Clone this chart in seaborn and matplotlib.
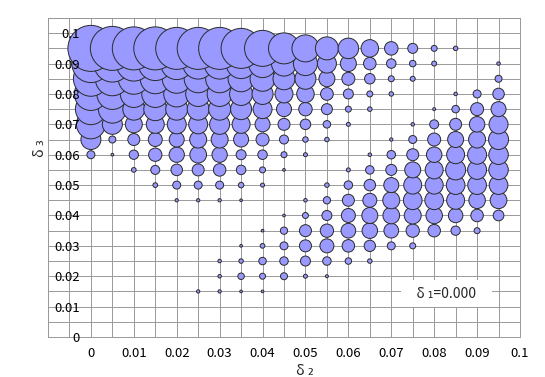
import numpy as np
import pandas as pd
import matplotlib
matplotlib.use('Agg')
import matplotlib.pyplot as plt
import seaborn as sns

# delta2 values (x categories)
delta2 = [0.000, 0.005, 0.010, 0.015, 0.020, 0.025, 0.030, 0.035, 0.040, 0.045,
          0.050, 0.055, 0.060, 0.065, 0.070, 0.075, 0.080, 0.085, 0.090, 0.095]

# bubble size (diameter) for each delta3 row, one value per delta2
row_095 = [46, 44, 43, 43, 42, 42, 42, 40, 36, 31, 27, 23, 20.5, 17.5, 13.5, 10, 6, 4.5, 0, 0]
row_090 = [38, 37, 35, 34, 32, 31, 31, 30, 28, 25, 24, 19, 16, 12.5, 9.5, 6.5, 5, 0, 0, 3.5]
row_085 = [35, 34, 31, 30, 29, 28, 28, 26, 25, 22, 21, 16, 13, 10.5, 6, 5, 0, 0, 0, 7]
row_080 = [33, 31, 27, 27, 26, 25, 25, 23, 21, 18, 17.5, 12.7, 10, 6, 4.5, 0, 0, 3.5, 8, 11.5]
row_075 = [31, 28, 22, 23, 22, 22, 22, 21, 19, 15, 13.5, 11, 6, 4.5, 0, 0, 3, 7.5, 13, 15]
row_070 = [29, 20, 17, 18, 19, 19, 20, 18, 15, 12, 10.5, 7.5, 4, 0, 0, 3.5, 9, 12, 15.5, 19]
row_065 = [20, 7, 12, 14, 15, 17, 17, 15, 13, 9, 5.5, 4.5, 0, 0, 3.3, 8, 13, 16, 17, 20]
row_060 = [8, 2.7, 9.3, 13.3, 15.3, 16.7, 15.3, 10, 9.5, 6, 4, 0, 0, 3.5, 8.5, 12, 15.5, 18, 19, 19.5]
row_055 = [0, 0, 4.7, 9, 11.5, 12, 12.5, 9.5, 6, 2.7, 0, 0, 4, 8.5, 11, 16, 18, 20, 19, 19.5]
row_050 = [0, 0, 0, 4.7, 8, 8, 8, 5.5, 4, 0, 0, 4.5, 8.5, 11.5, 15, 18, 18, 18.7, 18.7, 18.7]
row_045 = [0, 0, 0, 0, 3.3, 3.3, 3.3, 2.7, 0, 0, 3.5, 7.3, 12, 14, 17, 18.7, 18.7, 18, 16.5, 16.7]
row_040 = [0, 0, 0, 0, 0, 0, 0, 0, 0, 2.7, 6, 10, 14, 16, 16.7, 17, 16.5, 14.5, 12.5, 10.7]
row_035 = [0, 0, 0, 0, 0, 0, 0, 0, 2.7, 7.3, 12, 13.3, 14.7, 15.5, 14.7, 13.3, 12.5, 9.3, 6, 0]
row_030 = [0, 0, 0, 0, 0, 0, 0, 2.7, 4.7, 8, 12, 14, 12.5, 11.3, 8, 6, 0, 0, 0, 0]
row_025 = [0, 0, 0, 0, 0, 0, 3.5, 4.5, 7.5, 8.5, 10, 8.5, 6.5, 4.5, 0, 0, 0, 0, 0, 0]
row_020 = [0, 0, 0, 0, 0, 0, 3.5, 6.5, 6, 7, 4, 3, 0, 0, 0, 0, 0, 0, 0, 0]
row_015 = [0, 0, 0, 0, 0, 3.3, 3.3, 2.7, 2.7, 0, 0, 0, 0, 0, 0, 0, 0, 0, 0, 0]

delta3 = [0.095, 0.090, 0.085, 0.080, 0.075, 0.070, 0.065, 0.060, 0.055,
          0.050, 0.045, 0.040, 0.035, 0.030, 0.025, 0.020, 0.015]
rows = [row_095, row_090, row_085, row_080, row_075, row_070, row_065, row_060, row_055,
        row_050, row_045, row_040, row_035, row_030, row_025, row_020, row_015]

x_ticks = [0, 0.01, 0.02, 0.03, 0.04, 0.05, 0.06, 0.07, 0.08, 0.09, 0.1]
y_ticks = [0, 0.01, 0.02, 0.03, 0.04, 0.05, 0.06, 0.07, 0.08, 0.09, 0.1]
note = 'δ ₁=0.000'

# long table, lower rows first so the upper bubbles sit on top (as in the original)
recs = []
for y, vals in zip(delta3, rows):
    for x, d in zip(delta2, vals):
        if d > 0:
            recs.append((x, y, d * d))
df = pd.DataFrame(recs, columns=['d2', 'd3', 'area'])
df = df.sort_values(['d3', 'd2'], kind='stable').reset_index(drop=True)

sns.set_style('white')
plt.rcParams['font.family'] = ['Noto Sans CJK JP', 'DejaVu Sans']

fig = plt.figure(figsize=(5.45, 3.77), dpi=100)
ax = fig.add_axes([48 / 545, 1 - 337 / 377, 472 / 545, 319 / 377])

grid_c = '#999999'
xs_grid = np.arange(-0.01, 0.1001, 0.005)
ys_grid = np.arange(0, 0.1051, 0.005)
ax.vlines(xs_grid, 0, 0.105, colors=grid_c, lw=0.7, zorder=0.5)
ax.hlines(ys_grid, -0.01, 0.1, colors=grid_c, lw=0.7, zorder=0.5)

dmax = max(max(r) for r in rows)
sns.scatterplot(data=df, x='d2', y='d3', size='area',
                sizes=(0, (dmax * 0.72) ** 2), size_norm=(0, dmax ** 2),
                color='#9999ff', edgecolor='#2a2a2a', linewidth=0.7,
                alpha=1, legend=False, ax=ax, zorder=1)

ax.set_xlim(-0.01, 0.1)
ax.set_ylim(0, 0.105)
ax.set_axisbelow(False)
ax.grid(False)

ax.set_xticks(x_ticks)
ax.set_xticklabels([f'{v:g}' for v in x_ticks])
ax.set_yticks(y_ticks)
ax.set_yticklabels([f'{v:g}' for v in y_ticks])
ax.tick_params(axis='both', length=0, labelsize=9.5, colors='black')
ax.tick_params(axis='x', pad=7)
ax.tick_params(axis='y', pad=-23)

for s in ax.spines.values():
    s.set_color(grid_c)
    s.set_linewidth(0.7)

ax.set_xlabel('δ ₂', fontsize=10.5)
ax.set_ylabel('δ ₃', fontsize=10.5)
ax.xaxis.set_label_coords(0.544, -0.108)
ax.xaxis.label.set_va('center')
ax.yaxis.set_label_coords(-0.017, 0.592)
ax.yaxis.label.set_va('center')

ax.text(0.0829, 0.0143, '   ' + note + '   ', ha='center', va='center', fontsize=10,
        bbox=dict(boxstyle='square,pad=0.45', facecolor='white', edgecolor='none'),
        zorder=3)

fig.savefig('out.png', dpi=100)
